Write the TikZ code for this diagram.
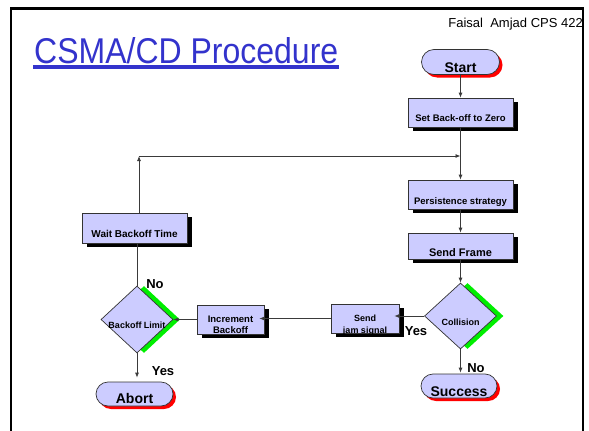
\documentclass[tikz,border=0pt]{standalone}
\usepackage{graphicx}
\usepackage{fontspec}
\setmainfont{Liberation Sans}
\usetikzlibrary{shapes.geometric,shapes.misc,shadows,arrows.meta,calc}

\definecolor{boxfill}{HTML}{CCCCFF}
\definecolor{edge}{HTML}{333333}
\definecolor{wirecol}{HTML}{3A3A3A}
\definecolor{titleblue}{HTML}{3333CC}
\definecolor{shadowred}{HTML}{FF0000}
\definecolor{shadowgreen}{HTML}{00EE00}

\newcommand\fsz[1]{\fontsize{#1}{#1}\selectfont}

\begin{document}
\begin{tikzpicture}[x=1pt,y=-1pt,
  base/.style={draw=edge, line width=0.7pt, fill=boxfill, inner sep=0pt, text depth=0pt},
  procbox/.style={base, rectangle, font=\bfseries\fsz{9.5},
    drop shadow={shadow xshift=5pt, shadow yshift=-4pt, fill=black, opacity=1}},
  pill/.style={base, rounded rectangle, font=\bfseries\fsz{14},
    drop shadow={shadow xshift=3pt, shadow yshift=-3pt, fill=shadowred, opacity=1}},
  decision/.style={base, diamond, font=\bfseries\fsz{9},
    drop shadow={shadow xshift=7pt, shadow yshift=0pt, fill=shadowgreen, opacity=1}},
  wire/.style={draw=wirecol, line width=0.8pt},
  arr/.style={wire, -{Latex[length=5pt,width=4pt]}},
  branch/.style={font=\bfseries\fsz{13}, inner sep=0pt, anchor=base},
  boxtext/.style={font=\bfseries\fsz{9}, inner sep=0pt, anchor=base}
]
\useasboundingbox (0,0) rectangle (589,431);

% slide frame
\draw[line width=2.5pt] (11,440) -- (11,8.5) -- (583,8.5) -- (583,440);

% heading and author line
\node[anchor=base west, inner sep=0pt, text=titleblue, font=\fsz{32}] (title) at (34,63)
  {\scalebox{1}[1.12]{CSMA/CD Procedure}};
\draw[titleblue, line width=4pt] ([xshift=-1pt,yshift=-4pt]title.base west) -- ([xshift=1pt,yshift=-4pt]title.base east);
\node[anchor=base east, inner sep=0pt, font=\fsz{13}] (author) at (583,27.5) {Faisal\ \ Amjad CPS 422};

% main column
\node[pill, minimum width=78pt, minimum height=25pt, text height=20pt] (start) at (460.5,62) {Start};
\node[procbox, minimum width=105pt, minimum height=29pt, text height=17pt] (zero) at (460.5,112.5) {Set Back-off to Zero};
\node[procbox, minimum width=105pt, minimum height=29pt, text height=19pt] (persist) at (460.5,194.5) {Persistence strategy};
\node[procbox, font=\bfseries\fsz{11}, minimum width=105pt, minimum height=26pt, text height=20pt] (sendf) at (460.5,246) {Send Frame};
\node[decision, minimum width=72pt, minimum height=66pt, text height=19pt] (coll) at (460.5,316) {\makebox[0pt]{Collision}};
\node[pill, minimum width=76pt, minimum height=24pt, text height=21pt] (success) at (459,386) {Success};

% collision handling
\node[procbox, minimum width=68pt, minimum height=29pt] (jam) at (365,318.5) {};
\node[boxtext] (jamA) at ([yshift=-2.5pt]jam.center) {Send};
\node[boxtext] (jamB) at ([yshift=-14.5pt]jam.center) {jam signal};
\node[procbox, minimum width=67pt, minimum height=29pt] (inc) at (230.5,319.5) {};
\node[boxtext, font=\bfseries\fsz{9.5}] (incA) at ([yshift=-2.5pt]inc.center) {Increment};
\node[boxtext, font=\bfseries\fsz{9.5}] (incB) at ([yshift=-13.5pt]inc.center) {Backoff};
\node[decision, minimum width=72pt, minimum height=67pt, text height=17.6pt] (limit) at (137,319.5) {\makebox[0pt]{Backoff Limit}};
\node[procbox, font=\bfseries\fsz{10}, minimum width=105pt, minimum height=30pt, text height=18pt] (wait) at (134.5,228) {Wait Backoff Time};
\node[pill, minimum width=77pt, minimum height=24pt, text height=19pt] (abort) at (134.5,394) {Abort};

% branch labels
\node[branch] (collyes) at (416,335) {Yes};
\node[branch] (collno) at (476,372) {No};
\node[branch] (limitno) at (155,288) {No};
\node[branch] (limityes) at (163,375) {Yes};

% connectors
\coordinate (merge) at (460.5,156);
\coordinate (turn) at (139,156);
\draw[arr] (start.south) -- (zero.north);
\draw[arr] (zero.south) -- (persist.north);
\draw[arr] (persist.south) -- (sendf.north);
\draw[arr] (sendf.south) -- (coll.north);
\draw[arr, shorten >=1pt] (coll.south) -- (coll.south |- success.north);
\draw[arr, shorten >=-5pt] (coll.west) -- (coll.west -| jam.east);
\draw[arr, shorten >=-5pt] (jam.west) -- (jam.west -| inc.east);
\draw[arr] (inc.west) -- (limit.east);
\draw[wire] (limit.north) -- (limit.north |- wait.south);
\draw[arr, shorten >=4pt] (limit.south) -- (limit.south |- abort.north);
\draw[arr] (wait.north -| turn) -- (turn);
\draw[arr] (turn) -- (merge);
\end{tikzpicture}
\end{document}
